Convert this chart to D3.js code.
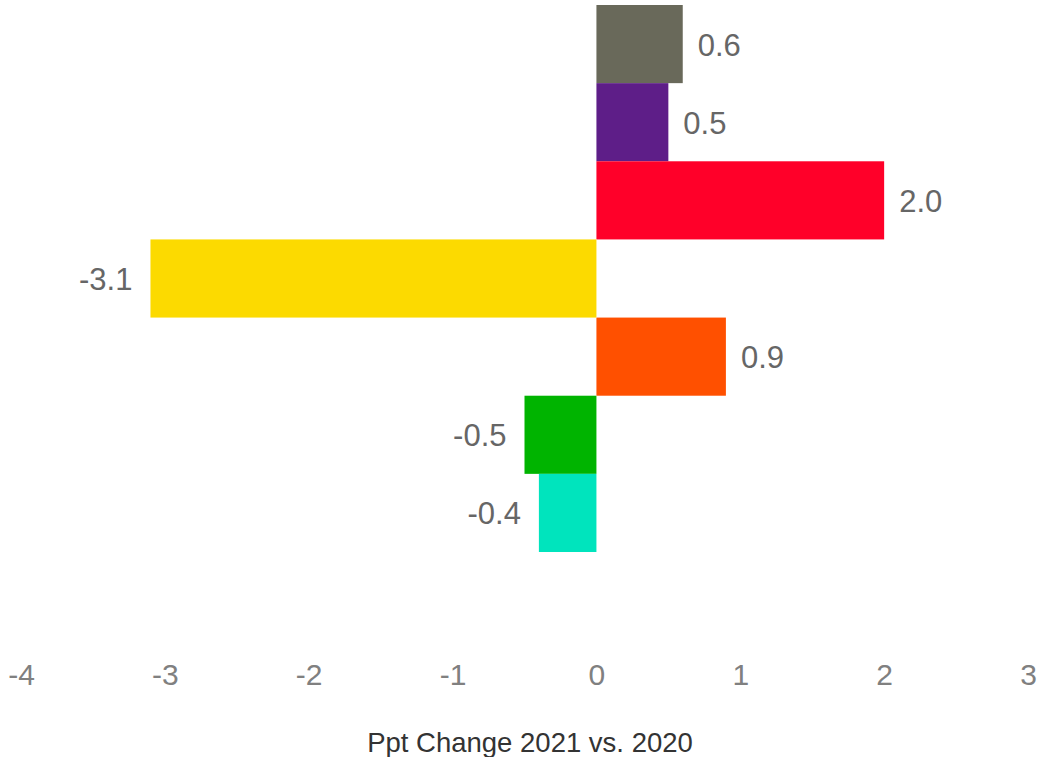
<!DOCTYPE html>
<html>
<head>
<meta charset="utf-8">
<script src="https://cdn.jsdelivr.net/npm/d3@7"></script>
<style>
  html, body { margin: 0; padding: 0; background: #fff; }
  svg { display: block; font-family: "Liberation Sans", Arial, sans-serif; }
</style>
</head>
<body>
<svg id="chart" width="1041" height="757"></svg>
<script>
// Percentage-point change per segment, 2021 vs. 2020 (top to bottom)
const categories = ["A", "B", "C", "D", "E", "F", "G"];
const values = [0.6, 0.5, 2.0, -3.1, 0.9, -0.5, -0.4];
const colors = ["#69695a", "#5e1e88", "#ff0029", "#fcda00", "#ff5000", "#00b400", "#00e4bd"];
const tickValues = [-4, -3, -2, -1, 0, 1, 2, 3];
const axisTitle = "Ppt Change 2021 vs. 2020";

const svg = d3.select("#chart");

const x = d3.scaleLinear().domain([-4, 3]).range([21, 1028]);
const y = d3.scaleBand().domain(categories).range([5, 552]).padding(0);

// bars
svg.append("g")
  .selectAll("rect")
  .data(values)
  .join("rect")
  .attr("x", d => x(Math.min(0, d)))
  .attr("y", (d, i) => y(categories[i]))
  .attr("width", d => Math.abs(x(d) - x(0)))
  .attr("height", y.bandwidth())
  .attr("fill", (d, i) => colors[i]);

// value labels
svg.append("g")
  .selectAll("text")
  .data(values)
  .join("text")
  .attr("x", d => d >= 0 ? x(d) + 15 : x(d) - 18)
  .attr("y", (d, i) => y(categories[i]) + y.bandwidth() / 2)
  .attr("dy", "0.37em")
  .attr("text-anchor", d => d >= 0 ? "start" : "end")
  .attr("fill", "#666666")
  .style("font-size", "31px")
  .text(d => d.toFixed(1));

// x axis (labels only)
const axis = svg.append("g")
  .attr("transform", "translate(0,655)")
  .call(d3.axisBottom(x).tickValues(tickValues).tickSize(0).tickPadding(0).tickFormat(d => String(d)));
axis.select(".domain").remove();
axis.attr("font-family", null).attr("font-size", null);
axis.selectAll("text")
  .attr("fill", "#808080")
  .attr("dy", "0")
  .attr("y", 30)
  .style("font-size", "30px");

// axis title
svg.append("text")
  .attr("x", 530)
  .attr("y", 752)
  .attr("text-anchor", "middle")
  .attr("fill", "#333333")
  .style("font-size", "27.5px")
  .text(axisTitle);
</script>
</body>
</html>
